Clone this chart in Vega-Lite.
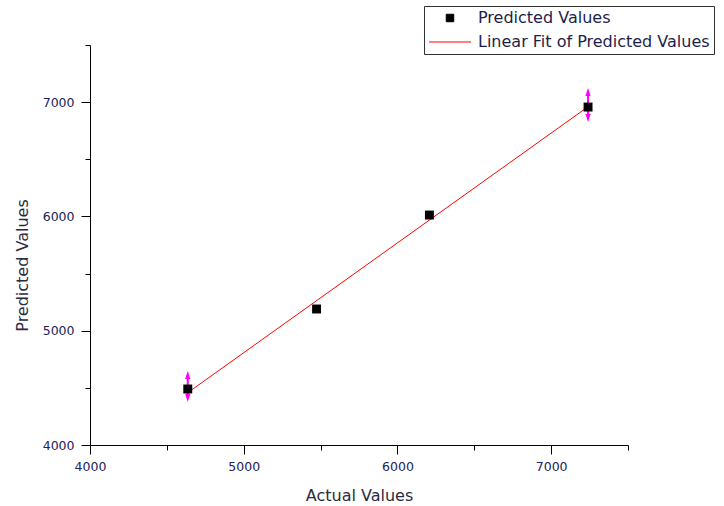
{
  "$schema": "https://vega.github.io/schema/vega-lite/v6.json",
  "autosize": "none",
  "padding": {"left": 90, "top": 45, "right": 96, "bottom": 61},
  "width": 538,
  "height": 400,
  "background": "white",
  "config": {
    "view": {"stroke": null},
    "axis": {
      "grid": false,
      "domainColor": "black",
      "tickColor": "black",
      "labelFont": "DejaVu Sans",
      "labelFontSize": 12.5,
      "labelColor": "#22225a",
      "labelFlush": false,
      "titleFont": "DejaVu Sans",
      "titleFontSize": 16,
      "titleFontWeight": "normal",
      "titleColor": "#2b2b40",
      "tickSize": {"condition": {"test": "datum.value % 1000 === 0", "value": 9}, "value": 5}
    }
  },
  "datasets": {
    "pts": [
      {"actual": 4636, "predicted": 4490},
      {"actual": 5474, "predicted": 5190},
      {"actual": 6208, "predicted": 6012},
      {"actual": 7240, "predicted": 6957}
    ],
    "errs": [
      {"actual": 4636, "lo": 4411, "hi": 4612},
      {"actual": 7240, "lo": 6861, "hi": 7088}
    ]
  },
  "layer": [
    {
      "data": {"name": "pts"},
      "transform": [{"regression": "predicted", "on": "actual"}],
      "mark": {"type": "line", "strokeWidth": 1},
      "encoding": {
        "x": {"field": "actual", "type": "quantitative", "scale": {"domain": [4000, 7500], "nice": false, "zero": false},
          "axis": {"title": "Actual Values", "values": [4000, 4500, 5000, 5500, 6000, 6500, 7000, 7500],
            "labelExpr": "datum.value % 1000 === 0 && datum.value < 7500 ? format(datum.value, 'd') : ''",
            "labelPadding": 6, "titlePadding": 15}},
        "y": {"field": "predicted", "type": "quantitative", "scale": {"domain": [4000, 7500], "nice": false, "zero": false},
          "axis": {"title": "Predicted Values", "values": [4000, 4500, 5000, 5500, 6000, 6500, 7000, 7500],
            "labelExpr": "datum.value % 1000 === 0 && datum.value < 7500 ? format(datum.value, 'd') : ''",
            "labelPadding": 7, "titlePadding": 12, "titleY": 220}},
        "color": {"datum": "Linear Fit of Predicted Values", "type": "nominal",
          "scale": {"domain": ["Predicted Values", "Linear Fit of Predicted Values"], "range": ["black", "red"]},
          "legend": {
            "title": null,
            "orient": "none",
            "legendX": 334,
            "legendY": -39,
            "strokeColor": "#333333",
            "padding": 4,
            "symbolSize": 196,
            "symbolOffset": 14,
            "labelOffset": 20,
            "labelFont": "DejaVu Sans",
            "labelFontSize": 16,
            "labelColor": "#1e1e4a",
            "labelLimit": 400,
            "rowPadding": 8,
            "fillColor": "white",
            "encode": {
              "symbols": {"update": {
                "shape": {"signal": "datum.value === 'Predicted Values' ? 'square' : 'M-3,0H3'"},
                "size": {"signal": "datum.value === 'Predicted Values' ? 56 : 196"},
                "fill": {"signal": "datum.value === 'Predicted Values' ? 'black' : 'transparent'"},
                "stroke": {"signal": "datum.value === 'Predicted Values' ? 'black' : 'red'"},
                "strokeWidth": {"value": 1},
                "opacity": {"value": 1}
              }}
            }
          }}
      }
    },
    {
      "data": {"name": "errs"},
      "mark": {"type": "rule", "color": "magenta", "strokeWidth": 2},
      "encoding": {
        "x": {"field": "actual", "type": "quantitative"},
        "y": {"field": "lo", "type": "quantitative"},
        "y2": {"field": "hi"}
      }
    },
    {
      "data": {"name": "errs"},
      "mark": {"type": "point", "shape": "M0,-1L0.65,1L-0.65,1Z", "filled": true, "color": "magenta", "size": 64, "opacity": 1},
      "encoding": {
        "x": {"field": "actual", "type": "quantitative"},
        "y": {"field": "hi", "type": "quantitative"}
      }
    },
    {
      "data": {"name": "errs"},
      "mark": {"type": "point", "shape": "M0,1L0.65,-1L-0.65,-1Z", "filled": true, "color": "magenta", "size": 64, "opacity": 1},
      "encoding": {
        "x": {"field": "actual", "type": "quantitative"},
        "y": {"field": "lo", "type": "quantitative"}
      }
    },
    {
      "data": {"name": "pts"},
      "mark": {"type": "point", "shape": "square", "filled": true, "size": 80, "opacity": 1},
      "encoding": {
        "x": {"field": "actual", "type": "quantitative"},
        "y": {"field": "predicted", "type": "quantitative"},
        "color": {"datum": "Predicted Values", "type": "nominal"}
      }
    }
  ]
}
